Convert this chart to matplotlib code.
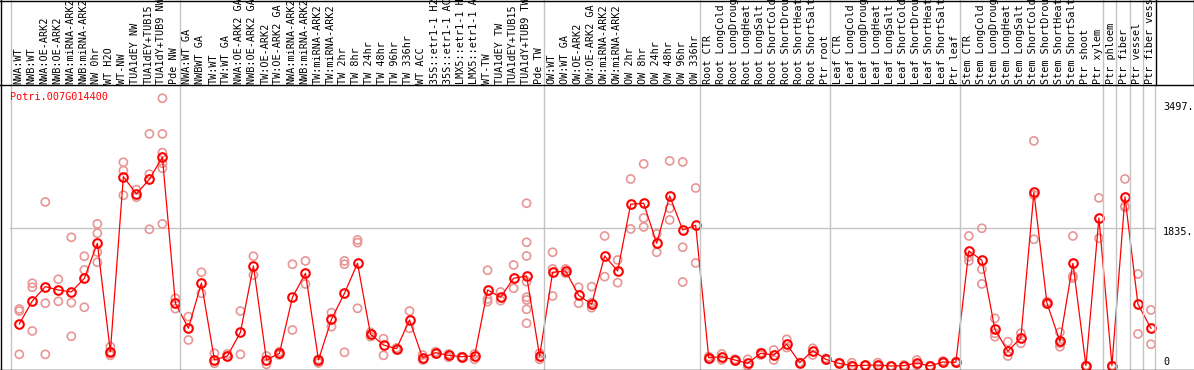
import matplotlib
matplotlib.use("Agg")
import matplotlib.pyplot as plt
from matplotlib.lines import Line2D
from matplotlib.transforms import blended_transform_factory

W, H = 1194, 370

gene = "Potri.007G014400"

labels = [
    "NWA:WT", "NWB:WT", "NWA:OE-ARK2", "NWB:OE-ARK2", "NWA:miRNA-ARK2",
    "NWB:miRNA-ARK2", "NW 0hr", "WT H2O", "WT-NW", "TUA1dEY NW",
    "TUA1dEY+TUB15", "TUA1dY+TUB9 NW", "Pde NW",
    "NWA:WT GA", "NWBWT GA", "TW:WT", "TW:WT GA", "NWA:OE-ARK2 GA",
    "NWB:OE-ARK2 GA", "TW:OE-ARK2", "TW:OE-ARK2 GA", "NWA:miRNA-ARK2",
    "NWB:miRNA-ARK2", "TW:miRNA-ARK2", "TW:miRNA-ARK2", "TW 2hr", "TW 8hr",
    "TW 24hr", "TW 48hr", "TW 96hr", "TW 336hr", "WT ACC", "35S::etr1-1 H2",
    "35S::etr1-1 AC", "LMX5::etr1-1 H", "LMX5::etr1-1 A", "WT-TW",
    "TUA1dEY TW", "TUA1dEY+TUB15", "TUA1dY+TUB9 TW", "Pde TW",
    "OW:WT", "OW:WT GA", "OW:OE-ARK2", "OW:OE-ARK2 GA", "OW:miRNA-ARK2",
    "OW:miRNA-ARK2", "OW 2hr", "OW 8hr", "OW 24hr", "OW 48hr", "OW 96hr",
    "OW 336hr",
    "Root CTR", "Root LongCold", "Root LongDroug", "Root LongHeat",
    "Root LongSalt", "Root ShortCold", "Root ShortDrou", "Root ShortHeat",
    "Root ShortSalt", "Ptr root",
    "Leaf CTR", "Leaf LongCold", "Leaf LongDroug", "Leaf LongHeat",
    "Leaf LongSalt", "Leaf ShortCold", "Leaf ShortDrou", "Leaf ShortHeat",
    "Leaf ShortSalt", "Ptr leaf",
    "Stem CTR", "Stem LongCold", "Stem LongDroug", "Stem LongHeat",
    "Stem LongSalt", "Stem ShortCold", "Stem ShortDrou", "Stem ShortHeat",
    "Stem ShortSalt", "Ptr shoot", "Ptr xylem",
    "Ptr phloem", "Ptr fiber", "Ptr vessel", "Ptr fiber vess",
]

means = [
    559, 865, 1055, 1011, 984, 1166, 1632, 190, 2518, 2288, 2483, 2776, 834,
    501, 1104, 80, 133, 448, 1330, 80, 169, 914, 1233, 80, 621, 967, 1366,
    422, 279, 230, 612, 110, 177, 142, 124, 133, 1011, 914, 1166, 1197, 133,
    1246, 1264, 940, 821, 1463, 1264, 2151, 2164, 1632, 2261, 1809, 1871,
    110, 124, 80, 36, 169, 146, 289, 44, 203, 89,
    36, 5, 9, 13, 0, 4, 40, 0, 53, 49,
    1530, 1406, 488, 195, 377, 2310, 838, 328, 1366, 5, 1968, 5, 2248, 820, 501,
]

reps = [
    [758, 731, 155], [1100, 1047, 466], [2181, 834, 155], [1153, 860],
    [1711, 842, 395], [1459, 1277, 781], [1889, 1765, 1516, 1379],
    [257, 190, 142], [2709, 2598, 2270], [2345, 2244], [3086, 2550, 1818],
    [3560, 3086, 2837, 2696, 2629, 1889], [900, 762],
    [656, 346], [1246, 967], [169, 36], [160, 124], [731, 155], [1459, 1210],
    [133, 22], [190, 146], [1353, 479], [1397, 1091], [90, 40], [709, 523],
    [1397, 1353, 182], [1676, 1640, 767], [448, 390], [363, 142], [240, 215],
    [731, 501], [146, 80], [190, 160], [160, 116], [124, 110], [160, 89],
    [1273, 891, 855], [984, 869], [1343, 1033],
    [2164, 1645, 1463, 1121, 914, 878, 754, 568], [169, 89],
    [1512, 1290, 931], [1290, 1233], [1047, 834], [1055, 842, 775],
    [1729, 1188], [1410, 1108], [2487, 1822], [2687, 1968, 1849],
    [1756, 1512], [2727, 2097, 1942], [2713, 1579, 1117], [2367, 1370],
    [124, 89], [160, 80], [89, 70], [89, 0], [177, 146], [213, 80],
    [355, 244], [44, 44], [235, 146], [102, 80],
    [44, 36], [44, 5], [9, 5], [44, 5], [0, 0], [13, 0], [80, 13], [5, 0],
    [67, 44], [58, 40],
    [1729, 1454, 1397], [1831, 1286, 1091], [634, 435, 390], [323, 133],
    [435, 302], [2993, 2274, 1685], [855, 825], [448, 302, 257],
    [1729, 1197, 1170], [5, 5], [2234, 1698], [5, 5], [2487, 2128, 2111],
    [1224, 426], [745, 289],
]

# first sample of each group (group lines drawn just before them)
group_starts = [0, 13, 41, 53, 63, 73, 84, 85, 86, 87]
ytick_vals = [3497, 1835, 0]
ytick_text = ["3497.", "1835.", "0"]

RED = "#ff0000"
PINK = "#e89595"
GRID = "#c4c4c4"
MONO = "DejaVu Sans Mono"


def fx(px):
    return px / W


def fy(py):
    return 1 - py / H


fig = plt.figure(figsize=(W / 100, H / 100), dpi=100)
ax = fig.add_axes([fx(1), fy(369), fx(1155) - fx(1), fy(85) - fy(369)])
ax.set_xlim(-1.407, 87.31)
ax.set_ylim(-40, 3736)
ax.axis("off")

xs = list(range(len(means)))

# replicates
rx, ry = [], []
for i, vals in enumerate(reps):
    rx += [i] * len(vals)
    ry += vals
ax.scatter(rx, ry, s=34, facecolors="none", edgecolors=PINK, linewidths=1.2,
           zorder=2, clip_on=False)

ax.plot(xs, means, color=RED, lw=0.9, zorder=3, clip_on=False)
ax.plot(xs, means, ls="none", marker="o", ms=6.2, mfc="none", mec=RED,
        mew=1.5, zorder=4, clip_on=False)

# grid line at middle tick
ax.axhline(1835, xmin=(10 - 1) / 1154, xmax=1, color=GRID, lw=1, zorder=1)

# group separators, through the label band too
btrans = blended_transform_factory(ax.transData, fig.transFigure)
for g in group_starts:
    fig.add_artist(Line2D([g - 0.65, g - 0.65], [fy(369), 1], color=GRID,
                          lw=1, transform=btrans, zorder=1))
fig.add_artist(Line2D([fx(1155), fx(1155)], [fy(369), fy(85)], color=GRID,
                      lw=1, transform=fig.transFigure))

# black frame pieces
frame = [
    ([0, W], [0.5, 0.5]),
    ([0, W], [85, 85]),
    ([0, W], [369.5, 369.5]),
    ([1, 1], [0, 370]),
    ([1156, 1156], [0, 85]),
    ([1193.5, 1193.5], [0, 85]),
]
for xp, yp in frame:
    fig.add_artist(Line2D([fx(v) for v in xp], [fy(v) for v in yp],
                          color="black", lw=1, transform=fig.transFigure))

# sample labels
for i, lab in enumerate(labels):
    fig.text(i - 0.08, fy(84), lab, rotation=90, ha="center", va="bottom",
             fontsize=7.3, family=MONO, color="black", transform=btrans)

fig.text(fx(10), fy(97), gene, ha="left", va="center", fontsize=7.3,
         family=MONO, color=RED)

ytrans = blended_transform_factory(fig.transFigure, ax.transData)
offs = [4, 4, -4]
for v, t, o in zip(ytick_vals, ytick_text, offs):
    y_pix = ax.transData.transform((0, v))[1]
    fig.text(fx(1163), (y_pix - o) / H, t, ha="left", va="center",
             fontsize=7.3, family=MONO, color="black")

fig.savefig("out.png", dpi=100)
